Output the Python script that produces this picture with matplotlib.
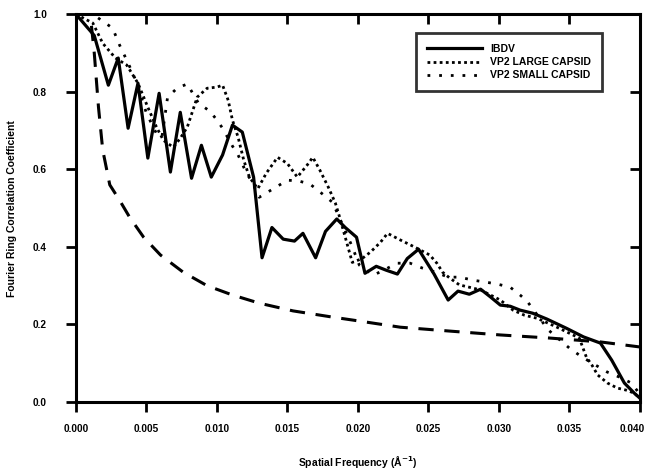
import matplotlib
matplotlib.use("Agg")
import matplotlib.pyplot as plt
import matplotlib.transforms as mtransforms

plt.rcParams['font.family'] = ['Liberation Sans', 'DejaVu Sans']
plt.rcParams['font.weight'] = 'bold'

# IBDV (solid)
ibdv_x = [0, 0.0013, 0.0023, 0.0030, 0.0037, 0.0044, 0.0051, 0.0059, 0.0067, 0.0074,
          0.0082, 0.0089, 0.0096, 0.0104, 0.0111, 0.0118, 0.0126, 0.0132, 0.0139, 0.0147,
          0.0155, 0.0161, 0.0170, 0.0177, 0.0185, 0.0191, 0.0199, 0.0205, 0.0213, 0.0220,
          0.0228, 0.0235, 0.0243, 0.0254, 0.0264, 0.0271, 0.0279, 0.0287, 0.0294, 0.0301,
          0.0308, 0.0315, 0.0324, 0.0334, 0.0348, 0.0360, 0.0372, 0.0380, 0.0389, 0.0396, 0.0400]
ibdv_y = [1.0, 0.945, 0.817, 0.887, 0.706, 0.822, 0.629, 0.796, 0.593, 0.747,
          0.577, 0.662, 0.58, 0.637, 0.714, 0.696, 0.58, 0.372, 0.45, 0.42,
          0.415, 0.435, 0.372, 0.44, 0.472, 0.45, 0.425, 0.332, 0.35, 0.34,
          0.33, 0.37, 0.394, 0.33, 0.263, 0.286, 0.278, 0.291, 0.271, 0.25,
          0.247, 0.237, 0.229, 0.214, 0.19, 0.168, 0.152, 0.108, 0.049, 0.023, 0.01]

# VP2 large capsid (dense dots)
large_x = [0, 0.0012, 0.0019, 0.0028, 0.0036, 0.0044, 0.0051, 0.0057, 0.0062, 0.0069,
           0.0074, 0.0079, 0.0086, 0.0093, 0.0100, 0.0104, 0.0108, 0.0111, 0.0115, 0.0119,
           0.0123, 0.0129, 0.0135, 0.0143, 0.0150, 0.0157, 0.0164, 0.0168, 0.0173, 0.0179,
           0.0184, 0.0187, 0.0191, 0.0196, 0.0203, 0.0209, 0.0216, 0.0221, 0.0230, 0.0240,
           0.0251, 0.0256, 0.0260, 0.0265, 0.0272, 0.0279, 0.0287, 0.0294, 0.0301, 0.0310,
           0.0318, 0.0327, 0.0340, 0.0357, 0.0362, 0.0366, 0.0370, 0.0377, 0.0384, 0.0390,
           0.0396, 0.0400]
large_y = [1.0, 0.977, 0.925, 0.887, 0.869, 0.822, 0.76, 0.71, 0.675, 0.657,
           0.68, 0.709, 0.786, 0.809, 0.812, 0.817, 0.778, 0.727, 0.683, 0.624,
           0.58, 0.55, 0.59, 0.631, 0.615, 0.58, 0.611, 0.631, 0.598, 0.554,
           0.513, 0.477, 0.425, 0.36, 0.37, 0.387, 0.412, 0.435, 0.418, 0.40,
           0.379, 0.358, 0.335, 0.32, 0.302, 0.296, 0.289, 0.276, 0.263, 0.237,
           0.224, 0.216, 0.195, 0.165, 0.116, 0.095, 0.07, 0.049, 0.036, 0.031,
           0.023, 0.01]

# VP2 small capsid (sparse dots)
small_x = [0, 0.0012, 0.0026, 0.0031, 0.0037, 0.0043, 0.0047, 0.0050, 0.0057, 0.0061,
           0.0065, 0.0072, 0.0079, 0.0087, 0.0095, 0.0100, 0.0104, 0.0111, 0.0115, 0.0121,
           0.0125, 0.0130, 0.0140, 0.0150, 0.0158, 0.0166, 0.0174, 0.0182, 0.0193, 0.0196,
           0.0201, 0.0211, 0.0228, 0.0237, 0.0246, 0.0255, 0.0264, 0.0272, 0.0282, 0.0291,
           0.0299, 0.0308, 0.0315, 0.0320, 0.0335, 0.0350, 0.0359, 0.0377, 0.0385, 0.0394, 0.0400]
small_y = [1.0, 1.0, 0.964, 0.92, 0.874, 0.825, 0.778, 0.745, 0.693, 0.683,
           0.786, 0.81, 0.82, 0.77, 0.75, 0.727, 0.706, 0.66, 0.637, 0.59,
           0.567, 0.528, 0.55, 0.572, 0.57, 0.562, 0.539, 0.515, 0.425, 0.40,
           0.353, 0.327, 0.358, 0.358, 0.345, 0.335, 0.322, 0.322, 0.314, 0.309,
           0.304, 0.296, 0.276, 0.26, 0.186, 0.139, 0.116, 0.077, 0.065, 0.049, 0.02]

# threshold curve (dashed)
thr_x = [0.0011, 0.0013, 0.0016, 0.0019, 0.0024, 0.0031, 0.0038, 0.0048, 0.0060, 0.0076,
         0.0093, 0.0111, 0.0130, 0.0154, 0.0182, 0.0197, 0.0230, 0.0265, 0.0301, 0.0336,
         0.0372, 0.0400]
thr_y = [0.97, 0.90, 0.76, 0.65, 0.56, 0.52, 0.477, 0.425, 0.379, 0.335,
         0.30, 0.276, 0.255, 0.235, 0.219, 0.211, 0.193, 0.183, 0.173, 0.165,
         0.155, 0.142]

xticks = [0.000, 0.005, 0.010, 0.015, 0.020, 0.025, 0.030, 0.035, 0.040]
yticks = [0.0, 0.2, 0.4, 0.6, 0.8, 1.0]

fig = plt.figure(figsize=(6.49, 4.73), dpi=100)
ax = fig.add_axes([0.117, 0.150, 0.869, 0.820])

ax.plot(thr_x, thr_y, color='black', lw=2.2, ls=(0, (5, 3.5)))
ax.plot(ibdv_x, ibdv_y, color='black', lw=2.3, label='IBDV')
ax.plot(large_x, large_y, color='black', lw=2.0, ls=(0, (1, 1.2)), label='VP2 LARGE CAPSID')
ax.plot(small_x, small_y, color='black', lw=2.0, ls=(0, (1, 3.2)), label='VP2 SMALL CAPSID')

ax.set_xlim(0, 0.040)
ax.set_ylim(0, 1.0)
ax.set_xticks(xticks)
ax.set_yticks(yticks)
ax.set_xticklabels(['%.3f' % v for v in xticks], fontsize=7.2)
ax.set_yticklabels(['%.1f' % v for v in yticks], fontsize=7.2)

for s in ax.spines.values():
    s.set_linewidth(2.2)
ax.tick_params(axis='both', which='major', direction='out', length=7, width=2, pad=9)
ax.tick_params(axis='y', pad=14)
ax2 = ax.secondary_xaxis('top')
ax2.set_xticks(xticks)
ax2.tick_params(direction='in', length=7, width=2, labeltop=False)
ax3 = ax.secondary_yaxis('right')
ax3.set_yticks(yticks)
ax3.tick_params(direction='in', length=7, width=2, labelright=False)

ax.set_xlabel('Spatial Frequency (Å$^{\\mathbf{-1}}$)', fontsize=7.5, fontweight='bold', labelpad=14)
ax.set_ylabel('Fourier Ring Correlation Coefficient', fontsize=7.5, fontweight='bold', labelpad=11)

leg = ax.legend(loc='upper left', bbox_to_anchor=(0.603, 0.951),
                prop={'size': 7.5, 'weight': 'bold'},
                handlelength=5.3, frameon=True, fancybox=False, borderpad=1.05,
                labelspacing=0.3, handletextpad=0.8, borderaxespad=0)
leg.get_frame().set_edgecolor('black')
leg.get_frame().set_linewidth(2)

# keep the last x label inside the figure
last = ax.xaxis.get_major_ticks()[-1].label1
last.set_transform(last.get_transform() + mtransforms.ScaledTranslation(-8 / 100, 0, fig.dpi_scale_trans))

fig.savefig('out.png', dpi=100)
